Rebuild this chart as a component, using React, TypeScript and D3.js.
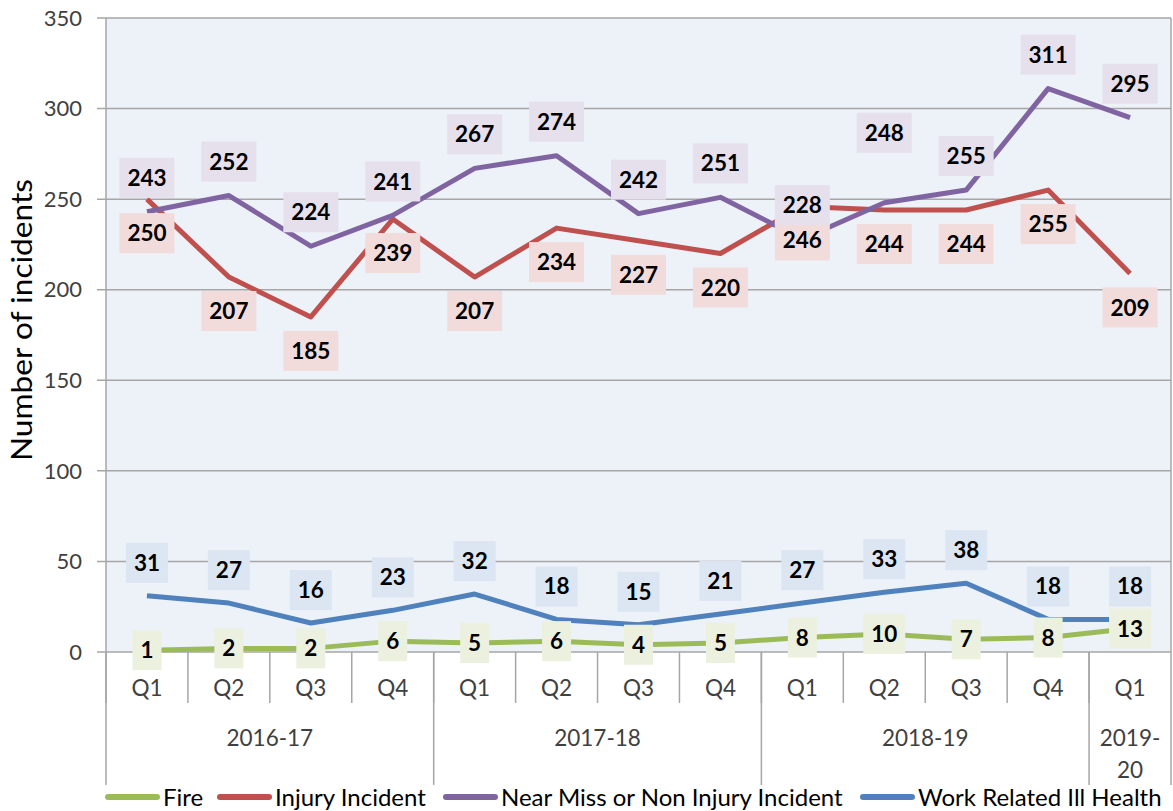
import * as d3 from 'd3';

const quarters = ['Q1', 'Q2', 'Q3', 'Q4', 'Q1', 'Q2', 'Q3', 'Q4', 'Q1', 'Q2', 'Q3', 'Q4', 'Q1'];
const years = [
  { label: ['2016-17'], start: 0, end: 4 },
  { label: ['2017-18'], start: 4, end: 8 },
  { label: ['2018-19'], start: 8, end: 12 },
  { label: ['2019-', '20'], start: 12, end: 13 },
];
const yTicks = [0, 50, 100, 150, 200, 250, 300, 350];

const fire = [1, 2, 2, 6, 5, 6, 4, 5, 8, 10, 7, 8, 13];
const injury = [250, 207, 185, 239, 207, 234, 227, 220, 246, 244, 244, 255, 209];
const nearMiss = [243, 252, 224, 241, 267, 274, 242, 251, 228, 248, 255, 311, 295];
const workIll = [31, 27, 16, 23, 32, 18, 15, 21, 27, 33, 38, 18, 18];

const series = [
  { name: 'Fire', values: fire, color: '#9BBB59', bg: '#EBF1DE', pos: 0 },
  { name: 'Injury Incident', values: injury, color: '#C0504D', bg: '#F2DCDB', pos: 34 },
  { name: 'Near Miss or Non Injury Incident', values: nearMiss, color: '#8064A2', bg: '#E6E0EC', pos: -34 },
  { name: 'Work Related Ill Health', values: workIll, color: '#4F81BD', bg: '#DCE6F2', pos: -33 },
];

// labels that Excel nudged out of the way
const labelNudge: Record<string, number> = { 'Near Miss or Non Injury Incident-9': -36 };

const W = 1173;
const H = 811;
const left = 106;
const right = 1171;
const top = 18;
const bottom = 652;
const font = 'Lato, "Open Sans", sans-serif';

export default function App() {
  const idx = d3.range(quarters.length);
  const x = d3.scaleBand<number>().domain(idx).range([left, right]);
  const y = d3.scaleLinear().domain([0, 350]).range([bottom, top]);
  const bw = x.bandwidth();
  const cx = (i: number) => (x(i) as number) + bw / 2;
  const line = d3.line<number>().x((_, i) => cx(i)).y(d => y(d));

  const legendItems = [
    { s: series[0], x: 105 },
    { s: series[1], x: 217 },
    { s: series[2], x: 443 },
    { s: series[3], x: 860 },
  ];

  return (
    <svg width={W} height={H} style={{ position: 'absolute', left: 0, top: 0, background: '#fff' }}
      fontFamily={font}>
      <rect x={left} y={top} width={right - left} height={bottom - top} fill="#EDF1F8" />
      {yTicks.map(t => (
        <g key={t}>
          <line x1={left - 9} x2={right} y1={y(t)} y2={y(t)} stroke="#A6A6A6" strokeWidth={1.5} />
          <text x={82} y={y(t)} dy="0.35em" textAnchor="end" fontSize={22} fill="#404040">{t}</text>
        </g>
      ))}
      <line x1={right} x2={right} y1={top} y2={bottom} stroke="#A6A6A6" strokeWidth={1.5} />
      {/* category axis */}
      {idx.map(i => (
        <g key={i}>
          <line x1={x(i)} x2={x(i)} y1={bottom} y2={703} stroke="#A6A6A6" strokeWidth={1.5} />
          <text x={cx(i)} y={688} dy="0.35em" textAnchor="middle" fontSize={22.5} fill="#404040">{quarters[i]}</text>
        </g>
      ))}
      {years.map(yr => {
        const x0 = x(yr.start) as number;
        const x1 = yr.end < quarters.length ? (x(yr.end) as number) : right;
        return (
          <g key={yr.label.join('')}>
            <line x1={x0} x2={x0} y1={bottom} y2={785} stroke="#A6A6A6" strokeWidth={1.5} />
            {yr.label.map((l, k) => (
              <text key={k} x={(x0 + x1) / 2} y={738 + k * 32} dy="0.35em" textAnchor="middle"
                fontSize={22.5} fill="#404040">{l}</text>
            ))}
          </g>
        );
      })}
      <line x1={right} x2={right} y1={bottom} y2={785} stroke="#A6A6A6" strokeWidth={1.5} />
      <line x1={left} x2={left} y1={top} y2={bottom} stroke="#A6A6A6" strokeWidth={1.5} />

      {/* lines */}
      {series.map(s => (
        <path key={s.name} d={line(s.values) as string} fill="none" stroke={s.color} strokeWidth={5}
          strokeLinejoin="round" />
      ))}

      {/* labels */}
      {series.map(s => s.values.map((v, i) => {
        const str = String(v);
        const w = 4 + str.length * 13 + 12;
        const ly = y(v) + s.pos + (labelNudge[`${s.name}-${i}`] ?? 0);
        return (
          <g key={s.name + i}>
            <rect x={cx(i) - w / 2} y={ly - 20} width={w} height={40} fill={s.bg} />
            <text x={cx(i)} y={ly} dy="0.36em" textAnchor="middle" fontSize={22.5} fontWeight="bold"
              fill="#000">{str}</text>
          </g>
        );
      }))}

      <text transform="translate(22,320) rotate(-90)" textAnchor="middle" dy="0.35em"
        fontSize={28} textLength={282} lengthAdjust="spacingAndGlyphs" fill="#000">Number of incidents</text>

      {legendItems.map(({ s, x: lx }) => (
        <g key={s.name}>
          <line x1={lx + 3} x2={lx + 52} y1={797} y2={797} stroke={s.color} strokeWidth={6} strokeLinecap="round" />
          <text x={lx + 58} y={798} dy="0.35em" fontSize={24} fill="#000">{s.name}</text>
        </g>
      ))}
    </svg>
  );
}
